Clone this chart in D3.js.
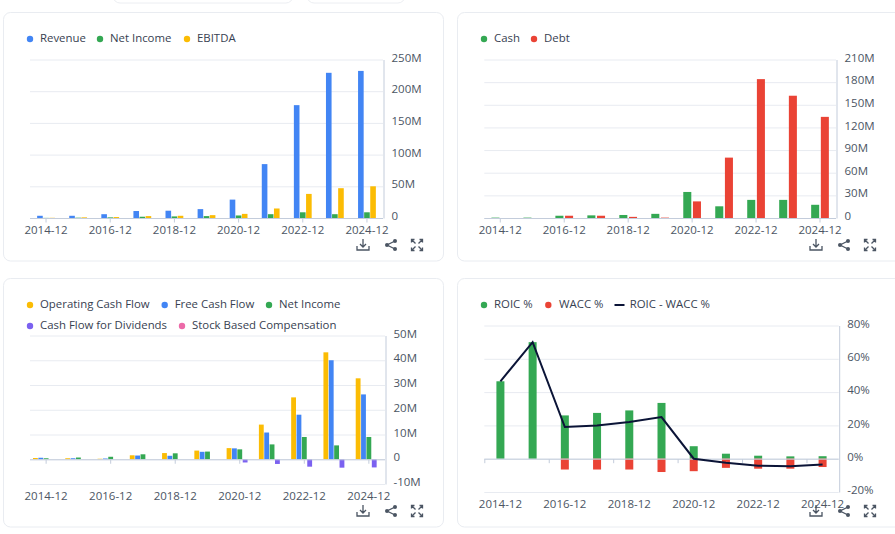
<!DOCTYPE html>
<html>
<head>
<meta charset="utf-8">
<script src="https://cdn.jsdelivr.net/npm/d3@7"></script>
<style>
  html, body { margin: 0; padding: 0; background: #fff; overflow: hidden; }
  text { font-family: "Open Sans", sans-serif; }
</style>
</head>
<body>
<div id="chart"></div>
<script>
// Fiscal periods shared by all four panels
var periods = ["2014-12", "2015-12", "2016-12", "2017-12", "2018-12", "2019-12", "2020-12", "2021-12", "2022-12", "2023-12", "2024-12"];

// Panel 1, millions
var revenue = [3.5, 3.5, 6, 11, 11.5, 14, 29, 85, 178, 229, 232];
var netIncome = [0.2, 0.5, 1, 2, 2.5, 3, 4, 6, 9, 6, 9];
var ebitda = [0.3, 1, 1.5, 3, 3.5, 4.5, 6.5, 15, 38, 47, 50];
var incomeTicks = [0, 50, 100, 150, 200, 250];

// Panel 2, millions
var cash = [0.5, 0.5, 3, 3.5, 4, 5.5, 34.5, 15.5, 24, 24, 17.5];
var debt = [0, 0, 3, 3, 1.5, 0.5, 22, 80, 184, 162, 134];
var balanceTicks = [0, 30, 60, 90, 120, 150, 180, 210];

// Panel 3, millions
var operatingCashFlow = [0.5, 0.4, 0.2, 1.6, 2.5, 3.5, 4.5, 14, 25, 43.2, 32.7];
var freeCashFlow = [0.6, 0.4, 0.3, 1.5, 1.4, 3, 4.4, 10.8, 18, 40, 26.2];
var netIncomeCf = [0.4, 0.7, 1, 2, 2.4, 3.1, 4, 6, 9, 5.6, 9];
var dividends = [0, 0, 0, 0, 0, 0, -1.3, -1.9, -3, -3.4, -3.3];
var stockComp = [0, 0, 0, 0, 0, 0, 0, 0, 0, 0, 0];
var cashFlowTicks = [-10, 0, 10, 20, 30, 40, 50];

// Panel 4, percent
var roic = [46.5, 70, 26, 27.5, 29, 33.5, 7.5, 3, 1.8, 1.4, 1.5];
var wacc = [0, 0, -6.5, -6.5, -6.5, -8, -7.5, -5.5, -6, -6, -5];
var spread = [46.5, 70, 19, 20, 22, 25, 0, -2.5, -4.2, -4.5, -3.5];
var returnTicks = [-20, 0, 20, 40, 60, 80];

var BLUE = "#4285f4", GREEN = "#34a853", YELLOW = "#fbbc04", RED = "#ea4335",
    PURPLE = "#7b61f0", PINK = "#ec6aa8", NAVY = "#0b1437";
var TEXT = "#4b5563", GRID = "#e8ebf1", AXIS = "#c3ccdb";

var svg = d3.select("#chart")
  .append("svg")
  .attr("width", 895)
  .attr("height", 534);

// Bits of the cards cut off at the top of the page
[[113, 180], [307, 98]].forEach(function(d) {
  svg.append("rect")
    .attr("x", d[0]).attr("y", -20)
    .attr("width", d[1]).attr("height", 23)
    .attr("rx", 7)
    .style("fill", "white").style("stroke", "#eceef2");
});

function money(d) { return d === 0 ? "0" : d + "M"; }
function percent(d) { return d + "%"; }

function drawPanel(p) {
  var card = svg.append("g");

  card.append("rect")
    .attr("x", p.card[0]).attr("y", p.card[1])
    .attr("width", p.card[2]).attr("height", p.card[3])
    .attr("rx", 7)
    .style("fill", "white")
    .style("stroke", "#e9ecf1");

  var x = d3.scaleBand().domain(periods).range([p.left, p.right]);
  var y = d3.scaleLinear().domain(d3.extent(p.ticks)).range([p.bottom, p.top]);

  // One slot per series inside each period, unless the bars overlap
  var slots = p.overlap ? ["all"] : p.bars.map(function(b) { return b.name; });
  var slot = d3.scaleBand()
    .domain(slots)
    .range([(x.bandwidth() - p.groupWidth) / 2, (x.bandwidth() + p.groupWidth) / 2])
    .paddingInner(p.overlap ? 0 : p.innerPad);

  // Grid lines
  card.append("g")
    .selectAll("line")
    .data(p.ticks)
    .enter()
    .append("line")
    .attr("x1", p.left)
    .attr("x2", p.right)
    .attr("y1", function(d) { return y(d) + 0.5; })
    .attr("y2", function(d) { return y(d) + 0.5; })
    .style("stroke", GRID);

  // Bars
  p.bars.forEach(function(b) {
    card.append("g")
      .selectAll("rect")
      .data(b.values)
      .enter()
      .append("rect")
      .attr("x", function(d, i) { return x(periods[i]) + slot(p.overlap ? "all" : b.name); })
      .attr("y", function(d) { return y(Math.max(d, 0)); })
      .attr("width", slot.bandwidth())
      .attr("height", function(d) { return Math.abs(y(d) - y(0)); })
      .style("fill", b.color);
  });

  // Zero line with the period ticks hanging from it
  var xAxis = d3.axisBottom(x)
    .tickValues(periods.filter(function(d, i) { return i % 2 === 0; }))
    .tickSize(4)
    .tickPadding(0)
    .tickFormat("");
  var xAxisG = card.append("g")
    .attr("transform", "translate(0," + (y(0) + 0.5) + ")")
    .call(xAxis);
  xAxisG.select(".domain").remove();
  xAxisG.selectAll(".tick line").style("stroke", AXIS);
  if (p.boundaryTicks) {
    xAxisG.selectAll(".tick")
      .attr("transform", function(d) { return "translate(" + (x(d) + 0.5) + ",0)"; });
  }
  card.append("line")
    .attr("x1", p.left).attr("x2", p.right)
    .attr("y1", y(0) + 0.5).attr("y2", y(0) + 0.5)
    .style("stroke", AXIS);

  // Period labels sit at the foot of the plot
  card.append("g")
    .selectAll("text")
    .data(periods.filter(function(d, i) { return i % 2 === 0; }))
    .enter()
    .append("text")
    .attr("x", function(d) { return x(d) + x.bandwidth() / 2; })
    .attr("y", p.labelY)
    .attr("text-anchor", "middle")
    .style("font-size", "11.5px")
    .style("fill", TEXT)
    .text(function(d) { return d; });

  // Value axis on the right
  var yAxis = d3.axisRight(y)
    .tickValues(p.ticks)
    .tickSize(0)
    .tickPadding(8)
    .tickFormat(p.format);
  var yAxisG = card.append("g")
    .attr("transform", "translate(" + (p.right + 0.5) + ",0)")
    .call(yAxis);
  yAxisG.select(".domain").style("stroke", AXIS);
  yAxisG.selectAll("text")
    .attr("dy", "0.14em")
    .style("font-family", "'Open Sans', sans-serif")
    .style("font-size", "11.5px")
    .style("fill", TEXT);

  // Line series
  if (p.line) {
    var line = d3.line()
      .x(function(d, i) { return x(periods[i]) + x.bandwidth() / 2; })
      .y(function(d) { return y(d); });
    card.append("path")
      .datum(p.line.values)
      .attr("d", line)
      .style("fill", "none")
      .style("stroke", p.line.color)
      .style("stroke-width", 2);
  }

  // Legend
  p.legend.forEach(function(l) {
    if (l.kind === "line") {
      card.append("line")
        .attr("x1", l.x - 5).attr("x2", l.x + 5)
        .attr("y1", l.y + 1).attr("y2", l.y + 1)
        .style("stroke", l.color).style("stroke-width", 2);
    } else {
      card.append("circle")
        .attr("cx", l.x).attr("cy", l.y + 1).attr("r", 3.2)
        .style("fill", l.color);
    }
    card.append("text")
      .attr("x", l.x + l.gap)
      .attr("y", l.y + 4)
      .style("font-size", "11.4px")
      .style("fill", "#374151")
      .text(l.name);
  });

  // Toolbox icons
  drawIcons(card, p.icons, p.iconY);
}

function drawIcons(g, xs, yc) {
  var ink = "#4b5563";
  var dl = g.append("g").attr("transform", "translate(" + xs[0] + "," + yc + ")")
    .style("fill", "none").style("stroke", ink).style("stroke-width", 1.3);
  dl.append("path").attr("d", "M0,-6V2M-3,-1L0,2L3,-1");
  dl.append("path").attr("d", "M-6,1V5H6V1");

  var sh = g.append("g").attr("transform", "translate(" + xs[1] + "," + yc + ")");
  sh.append("path").attr("d", "M4,-4L-4,0L4,4")
    .style("fill", "none").style("stroke", ink).style("stroke-width", 1.3);
  [[4, -4], [-4, 0], [4, 4]].forEach(function(c) {
    sh.append("circle").attr("cx", c[0]).attr("cy", c[1]).attr("r", 2).style("fill", ink);
  });

  var fs = g.append("g").attr("transform", "translate(" + xs[2] + "," + yc + ")")
    .style("fill", "none").style("stroke", ink).style("stroke-width", 1.3);
  fs.append("path").attr("d", "M-5.5,-2.5V-5.5H-2.5M-5.5,-5.5L-1.5,-1.5");
  fs.append("path").attr("d", "M5.5,-2.5V-5.5H2.5M5.5,-5.5L1.5,-1.5");
  fs.append("path").attr("d", "M-5.5,2.5V5.5H-2.5M-5.5,5.5L-1.5,1.5");
  fs.append("path").attr("d", "M5.5,2.5V5.5H2.5M5.5,5.5L1.5,1.5");
}

drawPanel({
  card: [3.5, 12.5, 440, 248.5],
  left: 30, right: 383, top: 59.5, bottom: 218,
  ticks: incomeTicks, format: money, labelY: 234,
  groupWidth: 17.8, innerPad: 0.08,
  bars: [
    { name: "Revenue", values: revenue, color: BLUE },
    { name: "Net Income", values: netIncome, color: GREEN },
    { name: "EBITDA", values: ebitda, color: YELLOW }
  ],
  legend: [
    { name: "Revenue", color: BLUE, x: 30, y: 38, gap: 10 },
    { name: "Net Income", color: GREEN, x: 100, y: 38, gap: 10 },
    { name: "EBITDA", color: YELLOW, x: 187, y: 38, gap: 10 }
  ],
  icons: [363, 391, 417], iconY: 245
});

drawPanel({
  card: [457.5, 12.5, 445, 248.5],
  left: 484.3, right: 836, top: 59.5, bottom: 218,
  ticks: balanceTicks, format: money, labelY: 234,
  groupWidth: 17.7, innerPad: 0.17,
  bars: [
    { name: "Cash", values: cash, color: GREEN },
    { name: "Debt", values: debt, color: RED }
  ],
  legend: [
    { name: "Cash", color: GREEN, x: 484, y: 38, gap: 10 },
    { name: "Debt", color: RED, x: 534, y: 38, gap: 10 }
  ],
  icons: [816, 844, 870], iconY: 245
});

drawPanel({
  card: [3.5, 278.5, 440, 248.5],
  left: 30, right: 385, top: 335.5, bottom: 484,
  ticks: cashFlowTicks, format: money, labelY: 500,
  groupWidth: 26.3, innerPad: 0.1,
  bars: [
    { name: "Operating Cash Flow", values: operatingCashFlow, color: YELLOW },
    { name: "Free Cash Flow", values: freeCashFlow, color: BLUE },
    { name: "Net Income", values: netIncomeCf, color: GREEN },
    { name: "Cash Flow for Dividends", values: dividends, color: PURPLE },
    { name: "Stock Based Compensation", values: stockComp, color: PINK }
  ],
  legend: [
    { name: "Operating Cash Flow", color: YELLOW, x: 30, y: 304, gap: 10 },
    { name: "Free Cash Flow", color: BLUE, x: 164.7, y: 304, gap: 10 },
    { name: "Net Income", color: GREEN, x: 269, y: 304, gap: 10 },
    { name: "Cash Flow for Dividends", color: PURPLE, x: 30, y: 325, gap: 10 },
    { name: "Stock Based Compensation", color: PINK, x: 182, y: 325, gap: 10 }
  ],
  icons: [363, 391, 417], iconY: 511
});

drawPanel({
  card: [457.5, 278.5, 445, 248.5],
  left: 484.3, right: 838.7, top: 325.5, bottom: 492,
  ticks: returnTicks, format: percent, labelY: 508,
  groupWidth: 8, overlap: true, boundaryTicks: true,
  bars: [
    { name: "ROIC %", values: roic, color: GREEN },
    { name: "WACC %", values: wacc, color: RED }
  ],
  line: { values: spread, color: NAVY },
  legend: [
    { name: "ROIC %", color: GREEN, x: 484, y: 304, gap: 10 },
    { name: "WACC %", color: RED, x: 548.3, y: 304, gap: 10.7 },
    { name: "ROIC - WACC %", color: NAVY, x: 619.5, y: 304, gap: 10.2, kind: "line" }
  ],
  icons: [816, 844, 870], iconY: 511
});
</script>
</body>
</html>
